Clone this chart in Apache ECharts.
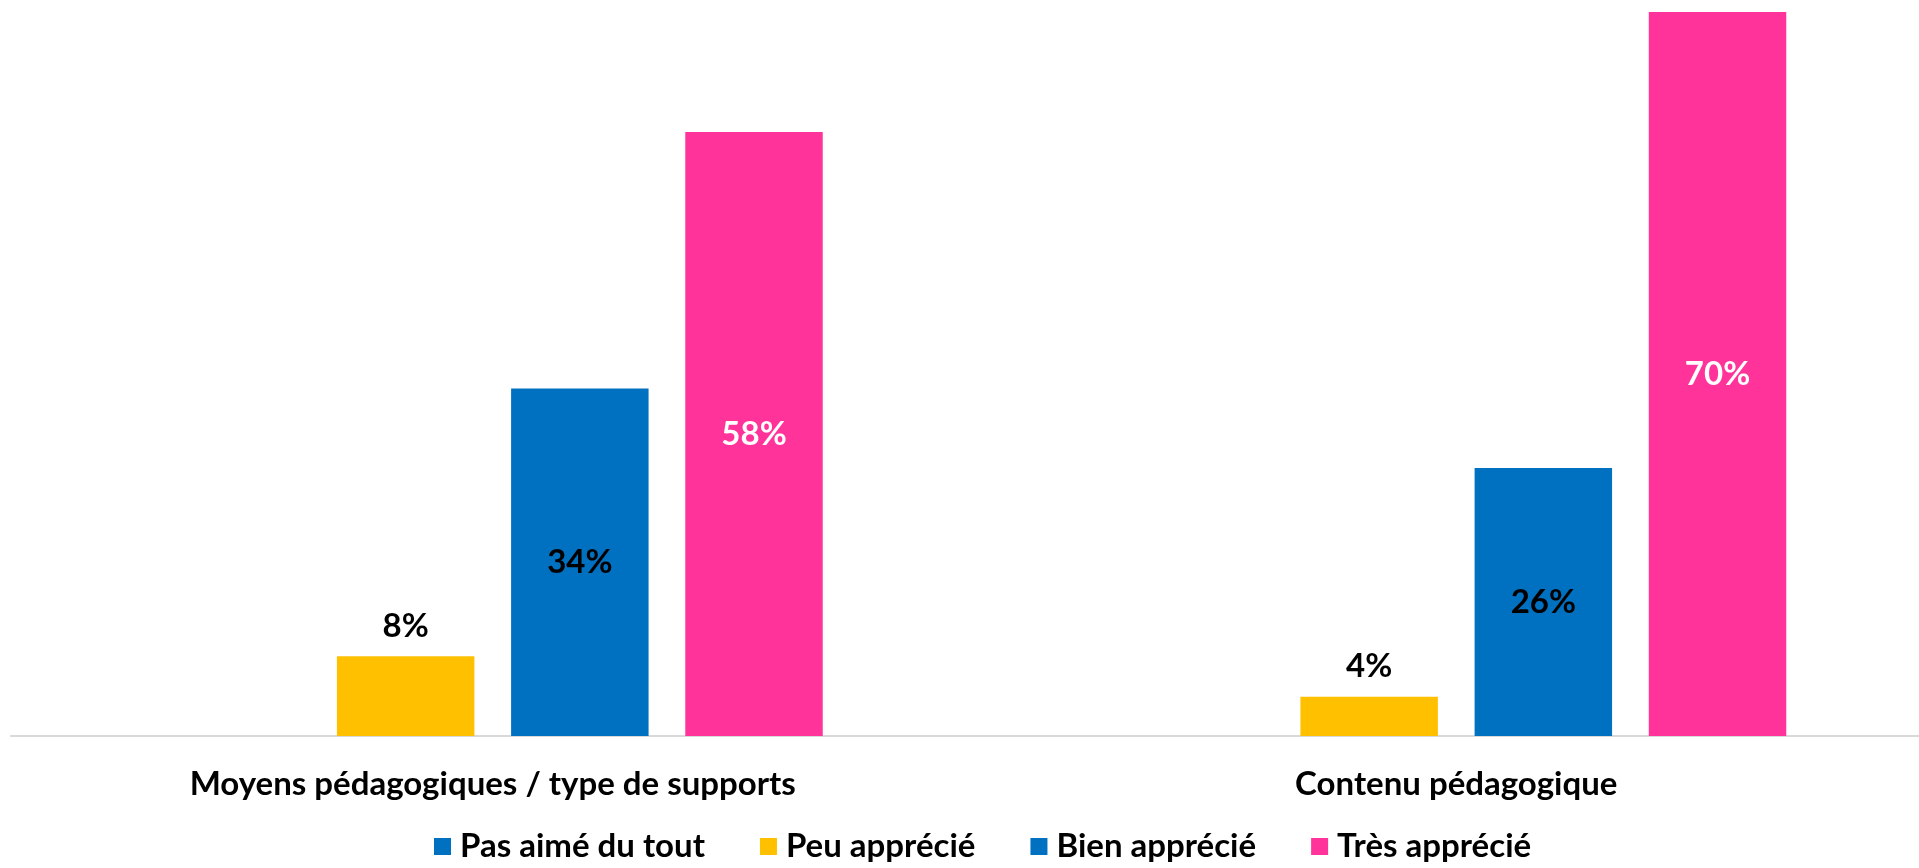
<!DOCTYPE html>
<html>
<head>
<meta charset="utf-8">
<script src="https://cdn.jsdelivr.net/npm/echarts@6/dist/echarts.min.js"></script>
<style>html,body{margin:0;padding:0;background:#fff;overflow:hidden}#c{width:1919px;height:868px}</style>
</head>
<body>
<div id="c"></div>
<script>
const categories = ['Moyens pédagogiques / type de supports', 'Contenu pédagogique'];
const seriesNames = ['Pas aimé du tout', 'Peu apprécié', 'Bien apprécié', 'Très apprécié'];
const pasAime = [0, 0];
const peuApprecie = [7.7, 3.8];
const bienApprecie = [33.6, 25.9];
const tresApprecie = [58.4, 70];
const colors = ['#0070C0', '#FFC000', '#0070C0', '#FF3399'];

const FONT = 'Lato';
const FS = 33;

function lbl(pos, color) {
  return {
    show: true, position: pos, distance: 14,
    color: color, fontFamily: FONT, fontWeight: 'bold', fontSize: FS,
    formatter: p => p.value > 0 ? Math.round(p.value) + '%' : ''
  };
}

const chart = echarts.init(document.getElementById('c'), null, {renderer: 'canvas'});
chart.setOption({
  animation: false,
  color: colors,
  grid: {left: 11, width: 1927, top: 12, bottom: 132, containLabel: false, outerBoundsMode: 'none'},
  legend: {
    data: seriesNames, top: 830, left: 434, icon: 'rect', padding: 0,
    itemWidth: 17, itemHeight: 17, itemGap: 55,
    textStyle: {fontFamily: FONT, fontWeight: 'bold', fontSize: FS, color: '#000', padding: [0, 0, 0, 4]}
  },
  xAxis: {
    type: 'category', data: categories,
    axisLine: {lineStyle: {color: '#D9D9D9', width: 2}},
    axisTick: {show: false},
    axisLabel: {margin: 32, color: '#000', fontFamily: FONT, fontWeight: 'bold', fontSize: FS}
  },
  yAxis: {type: 'value', min: 0, max: 70, show: false, splitLine: {show: false}},
  series: [
    {name: seriesNames[0], type: 'bar', data: pasAime, barGap: '26.7%', barCategoryGap: '31.5%', label: lbl('top', '#000')},
    {name: seriesNames[1], type: 'bar', data: peuApprecie, label: lbl('top', '#000')},
    {name: seriesNames[2], type: 'bar', data: bienApprecie, label: lbl('inside', '#000')},
    {name: seriesNames[3], type: 'bar', data: tresApprecie, label: lbl('inside', '#fff')}
  ]
});
</script>
</body>
</html>
